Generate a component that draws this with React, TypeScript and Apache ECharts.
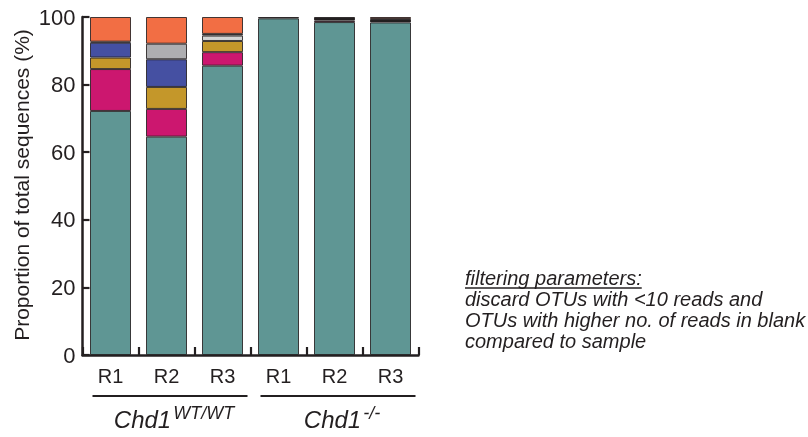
import React, { useEffect, useRef } from 'react';
import * as echarts from 'echarts';

// ---- data ----
const categories = ['R1', 'R2', 'R3', 'R1', 'R2', 'R3'];
const teal = [72.2, 64.6, 85.6, 99.6, 98.5, 98.4];
const magenta = [12.4, 8.2, 4.0, 0, 0.5, 0];
const gold = [3.4, 6.5, 3.3, 0, 0, 0];
const blue = [4.4, 8.2, 0, 0, 0, 0];
const gray = [0, 4.6, 0, 0, 0, 0];
const lightGray = [0, 0, 1.6, 0, 0, 0];
const dark = [0.3, 0, 0.5, 0.4, 1.0, 1.0];
const orange = [7.3, 7.9, 5.0, 0, 0, 0.6];

const groupNames = ['Chd1', 'Chd1'];
const groupSups = ['WT/WT', '-/-'];
const groupFrom = [0, 3];
const groupTo = [2, 5];

const noteTitle = 'filtering parameters:';
const noteLines = [
  'discard OTUs with <10 reads and',
  'OTUs with higher no. of reads in blank',
  'compared to sample',
];
const yAxisTitle = 'Proportion of total sequences (%)';

const FONT = '"Liberation Sans", Arial, Helvetica, sans-serif';
const INK = '#231F20';

export default function App() {
  const ref = useRef<HTMLDivElement>(null);

  useEffect(() => {
    const el = ref.current as HTMLDivElement;
    const chart = echarts.init(el, undefined, { renderer: 'svg' });

    const mk = (name: string, data: number[], color: string) => ({
      name,
      type: 'bar',
      stack: 'total',
      barWidth: 41,
      data: data.map((v) => (v === 0 ? '-' : v)),
      itemStyle: { color, borderColor: 'rgba(35,31,32,0.85)', borderWidth: 1 },
      emphasis: { disabled: true },
    });

    chart.setOption({
      animation: false,
      grid: { left: 82.5, right: 389.5, top: 17, bottom: 82, containLabel: false, outerBoundsMode: 'none' },
      xAxis: {
        type: 'category',
        data: categories,
        boundaryGap: true,
        axisLine: { lineStyle: { color: INK, width: 2.5 } },
        axisTick: { show: true, inside: true, length: 8, alignWithLabel: false, lineStyle: { color: INK, width: 2.2 } },
        axisLabel: { color: INK, fontSize: 20, fontFamily: FONT, margin: 11 },
      },
      yAxis: {
        type: 'value',
        min: 0,
        max: 100,
        interval: 20,
        splitLine: { show: false },
        axisLine: { show: true, lineStyle: { color: INK, width: 2.5 } },
        axisTick: { show: true, inside: true, length: 7, lineStyle: { color: INK, width: 2.2 } },
        axisLabel: { color: INK, fontSize: 22, fontFamily: FONT, margin: 7 },
      },
      series: [
        mk('teal', teal, '#5F9694'),
        mk('magenta', magenta, '#CC176F'),
        mk('gold', gold, '#C4972A'),
        mk('blue', blue, '#4550A2'),
        mk('gray', gray, '#AEAEB1'),
        mk('lightGray', lightGray, '#D4D4D4'),
        mk('dark', dark, '#231F20'),
        mk('orange', orange, '#F26E44'),
      ],
    });

    const ctx = document.createElement('canvas').getContext('2d') as CanvasRenderingContext2D;
    const measure = (t: string, size: number, italic: boolean) => {
      ctx.font = `${italic ? 'italic ' : ''}${size}px ${FONT}`;
      return ctx.measureText(t).width;
    };
    const px = (i: number) => chart.convertToPixel({ xAxisIndex: 0 }, i) as number;

    const graphics: any[] = [];
    // y axis title
    graphics.push({
      type: 'text',
      x: 21.5,
      y: 185,
      rotation: Math.PI / 2,
      style: { text: yAxisTitle, fill: INK, fontSize: 21, fontFamily: FONT, align: 'center', verticalAlign: 'middle' },
    });

    // group brackets and labels
    const mainSize = 24;
    const supSize = 18;
    for (let g = 0; g < groupNames.length; g++) {
      const x1 = px(groupFrom[g]) - 18;
      const x2 = px(groupTo[g]) + 25;
      graphics.push({
        type: 'line',
        shape: { x1, y1: 396, x2, y2: 396 },
        style: { stroke: INK, lineWidth: 2.2 },
      });
      const wMain = measure(groupNames[g], mainSize, true);
      const wSup = measure(groupSups[g], supSize, true);
      const total = wMain + 2 + wSup;
      const cx = (x1 + x2) / 2 + 4;
      const left = cx - total / 2;
      graphics.push({
        type: 'text',
        x: left,
        y: 428 - 0.3465 * mainSize,
        style: { text: groupNames[g], fill: INK, fontSize: mainSize, fontStyle: 'italic', fontFamily: FONT, align: 'left', verticalAlign: 'middle' },
      });
      graphics.push({
        type: 'text',
        x: left + wMain + 2,
        y: 419 - 0.3465 * supSize,
        style: { text: groupSups[g], fill: INK, fontSize: supSize, fontStyle: 'italic', fontFamily: FONT, align: 'left', verticalAlign: 'middle' },
      });
    }

    // note text
    const noteSize = 20;
    const noteX = 465;
    const baselines = [285, 306, 327, 348];
    const allLines = [noteTitle, ...noteLines];
    allLines.forEach((t, i) => {
      graphics.push({
        type: 'text',
        x: noteX,
        y: baselines[i] - 0.3465 * noteSize,
        style: { text: t, fill: INK, fontSize: noteSize, fontStyle: 'italic', fontFamily: FONT, align: 'left', verticalAlign: 'middle' },
      });
    });
    const wTitle = measure(noteTitle, noteSize, true);
    graphics.push({
      type: 'line',
      shape: { x1: noteX, y1: 288, x2: noteX + wTitle, y2: 288 },
      style: { stroke: INK, lineWidth: 1.3 },
    });

    chart.setOption({ graphic: graphics });

    return () => chart.dispose();
  }, []);

  return <div ref={ref} style={{ position: 'fixed', left: 0, top: 0, width: 808, height: 437 }} />;
}
